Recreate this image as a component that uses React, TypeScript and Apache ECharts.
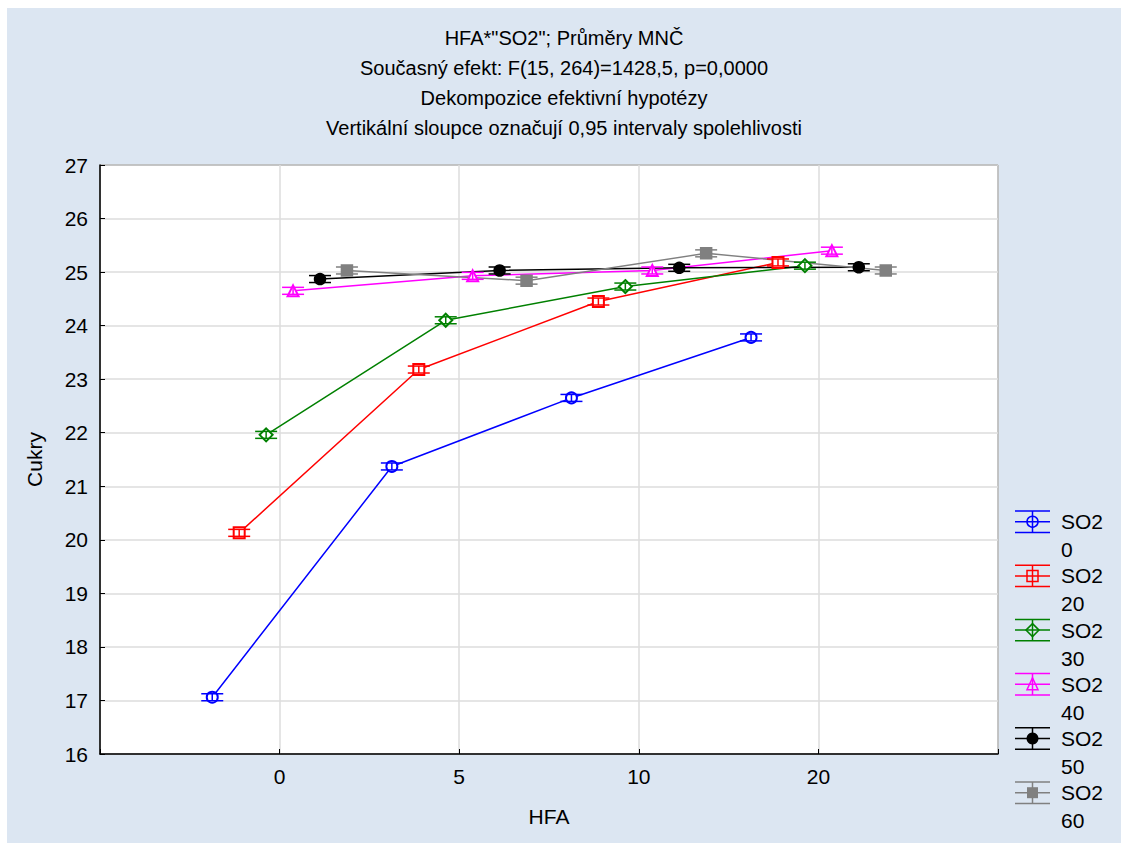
import React, { useEffect, useRef } from "react";
import * as echarts from "echarts";

const categories = ["0", "5", "10", "20"];
const levels = ["0", "20", "30", "40", "50", "60"];
const so2_0 = [17.06, 21.37, 22.65, 23.78];
const so2_20 = [20.13, 23.18, 24.45, 25.18];
const so2_30 = [21.96, 24.1, 24.73, 25.12];
const so2_40 = [24.65, 24.93, 25.03, 25.4];
const so2_50 = [24.87, 25.03, 25.08, 25.09];
const so2_60 = [25.03, 24.84, 25.35, 25.03];
const ciHalf = [0.065, 0.065, 0.065, 0.065, 0.065, 0.065];
const yTicks = [16, 27];

const seriesValues = [so2_0, so2_20, so2_30, so2_40, so2_50, so2_60];
const colors = ["#0000ff", "#ff0000", "#008000", "#ff00ff", "#000000", "#808080"];
const symbols = ["emptyCircle", "emptyRect", "emptyDiamond", "emptyTriangle", "circle", "rect"];
const titleLines = [
  'HFA*"SO2"; Průměry MNČ',
  "Současný efekt: F(15, 264)=1428,5, p=0,0000",
  "Dekompozice efektivní hypotézy",
  "Vertikální sloupce označují 0,95 intervaly spolehlivosti",
];

const FONT = "Liberation Sans, Arial, sans-serif";

function legendMarker(i: number, cx: number, cy: number, color: string) {
  const r = 5.5;
  if (i === 0)
    return { type: "circle", shape: { cx, cy, r }, style: { fill: "none", stroke: color, lineWidth: 1.5 } };
  if (i === 1)
    return { type: "rect", shape: { x: cx - r, y: cy - r, width: 2 * r, height: 2 * r }, style: { fill: "none", stroke: color, lineWidth: 1.5 } };
  if (i === 2)
    return { type: "polygon", shape: { points: [[cx, cy - r - 1], [cx + r + 1, cy], [cx, cy + r + 1], [cx - r - 1, cy]] }, style: { fill: "none", stroke: color, lineWidth: 1.5 } };
  if (i === 3)
    return { type: "polygon", shape: { points: [[cx, cy - r - 1], [cx + r, cy + r], [cx - r, cy + r]] }, style: { fill: "none", stroke: color, lineWidth: 1.5 } };
  if (i === 4)
    return { type: "circle", shape: { cx, cy, r: 6 }, style: { fill: color } };
  return { type: "rect", shape: { x: cx - r, y: cy - r, width: 2 * r, height: 2 * r }, style: { fill: color } };
}

export default function App() {
  const ref = useRef<HTMLDivElement>(null);
  useEffect(() => {
    if (!ref.current) return;
    const chart = echarts.init(ref.current, null, { renderer: "svg" });
    const n = seriesValues.length;
    const series: any[] = [];
    seriesValues.forEach((vals, i) => {
      const off = (i - (n - 1) / 2) * 0.15;
      const name = "SO2 " + levels[i];
      series.push({
        type: "line",
        name,
        data: vals.map((v, j) => [j + off, v]),
        symbol: symbols[i],
        symbolSize: i === 2 ? 13 : 11,
        lineStyle: { color: colors[i], width: 1.5 },
        itemStyle: { color: colors[i], borderColor: colors[i], borderWidth: 1.5 },
        z: 2,
      });
      series.push({
        type: "custom",
        name: name + " CI",
        data: vals.map((v, j) => [j + off, v, ciHalf[i]]),
        renderItem: (params: any, api: any) => {
          const x = api.value(0);
          const y = api.value(1);
          const e = api.value(2);
          const t = api.coord([x, y + e]);
          const b = api.coord([x, y - e]);
          const w = 11;
          const st = { stroke: colors[i], lineWidth: 1.5 };
          return {
            type: "group",
            children: [
              { type: "line", shape: { x1: t[0], y1: t[1], x2: b[0], y2: b[1] }, style: st },
              { type: "line", shape: { x1: t[0] - w, y1: t[1], x2: t[0] + w, y2: t[1] }, style: st },
              { type: "line", shape: { x1: b[0] - w, y1: b[1], x2: b[0] + w, y2: b[1] }, style: st },
            ],
          };
        },
        z: 3,
      });
    });

    const legendItems: any[] = [];
    levels.forEach((lv, i) => {
      const cy = 513.7 + i * 54.2;
      const x0 = 1008;
      const x1 = 1043;
      const cx = (x0 + x1) / 2;
      const st = { stroke: colors[i], lineWidth: 1.5 };
      legendItems.push(
        { type: "line", shape: { x1: x0, y1: cy - 10.7, x2: x1, y2: cy - 10.7 }, style: st },
        { type: "line", shape: { x1: x0, y1: cy, x2: x1, y2: cy }, style: st },
        { type: "line", shape: { x1: x0, y1: cy + 10.7, x2: x1, y2: cy + 10.7 }, style: st },
        { type: "line", shape: { x1: cx, y1: cy - 10.7, x2: cx, y2: cy + 10.7 }, style: st },
        legendMarker(i, cx, cy, colors[i]),
        {
          type: "text",
          x: 1054,
          y: cy - 14,
          style: {
            text: "SO2\n" + lv,
            fill: "#000",
            font: "21px " + FONT,
            lineHeight: 28,
            verticalAlign: "top",
            align: "left",
          },
        }
      );
    });

    chart.setOption({
      animation: false,
      backgroundColor: "#dce6f2",
      title: {
        text: titleLines.join("\n"),
        left: "center",
        top: 15,
        padding: 0,
        textStyle: { fontFamily: FONT, fontSize: 20, fontWeight: "normal", color: "#000", lineHeight: 30 },
      },
      grid: {
        left: 93,
        top: 157,
        right: 123,
        bottom: 89,
        show: true,
        backgroundColor: "#ffffff",
        borderColor: "#000",
        borderWidth: 1,
      },
      xAxis: {
        type: "value",
        min: -1,
        max: 4,
        interval: 1,
        name: "HFA",
        nameLocation: "middle",
        nameGap: 52,
        nameTextStyle: { fontFamily: FONT, fontSize: 21, color: "#000" },
        axisLine: { show: true, onZero: false, lineStyle: { color: "#000", width: 1.5 } },
        axisTick: { show: true, inside: true, length: 5, lineStyle: { color: "#000" } },
        axisLabel: {
          fontFamily: FONT,
          fontSize: 21,
          color: "#000",
          margin: 12,
          formatter: (v: number) => categories[Math.round(v)] ?? "",
        },
        splitLine: { show: true, lineStyle: { color: "#dcdcdc", width: 1.5 } },
      },
      yAxis: {
        type: "value",
        min: yTicks[0],
        max: yTicks[1],
        interval: 1,
        name: "Cukry",
        nameLocation: "middle",
        nameGap: 55,
        nameTextStyle: { fontFamily: FONT, fontSize: 21, color: "#000" },
        axisLine: { show: true, onZero: false, lineStyle: { color: "#000", width: 1.5 } },
        axisTick: { show: true, inside: true, length: 5, lineStyle: { color: "#000" } },
        axisLabel: { fontFamily: FONT, fontSize: 21, color: "#000", margin: 12 },
        splitLine: { show: true, lineStyle: { color: "#dcdcdc", width: 1.5 } },
      },
      graphic: legendItems,
      series,
    });
    return () => chart.dispose();
  }, []);
  return (
    <div
      ref={ref}
      style={{ position: "absolute", left: 7, top: 8, width: 1114, height: 835 }}
    />
  );
}
